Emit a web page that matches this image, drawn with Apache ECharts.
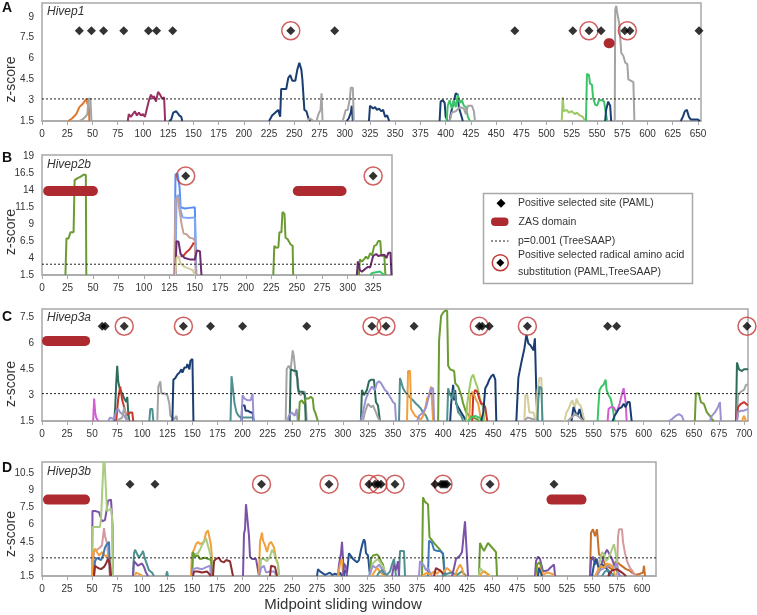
<!DOCTYPE html>
<html><head><meta charset="utf-8">
<script src="https://cdn.jsdelivr.net/npm/echarts@6/dist/echarts.min.js"></script>
<style>html,body{margin:0;padding:0;background:#fff}#c{width:757px;height:615px}</style>
</head><body><div id="c"></div>
<script>
// ---------------- DATA ----------------
const threshold = 3.09;

// Panel A: Hivep1
const hivep1Sites = [37,49,61,81,105.5,113.5,129.5,246.5,290,468.5,526,542,554,577.5,582.5,651];
const hivep1Radical = [246.5,542,580];
const hivep1SiteLevel = 8;
const hivep1Zas = [[561.5,562.5]];
const hivep1ZasLevel = 7.1;
const hivep1Windows = [
  [[26,1.5],[30,1.7],[34,2.0],[37,2.5],[40,2.7],[42,2.9],[44,3.1],[45,2.7],[46,3.0],[47,1.5]],
  [[37,1.5],[40,1.6],[43,1.8],[45,2.0],[46,3.1],[48,3.1],[49,1.5]],
  [[85,1.5],[86,2.0],[88,1.8],[90,2.0],[92,2.2],[94,1.9],[96,2.1],[98,1.9],[100,2.0],[102,1.8],[104,2.4],[106,3.0],[108,3.4],[110,3.1],[111,3.3],[113,2.9],[115,3.6],[117,3.4],[119,3.1],[121,3.2],[122,1.5]],
  [[126,1.5],[128,1.6],[130,2.1],[133,2.2],[136,1.9],[138,1.8],[139,1.5]],
  [[225,1.5],[228,1.9],[231,2.1],[234,2.3],[236,1.8],[237,3.8],[242,3.8],[244,4.6],[246,4.8],[248,4.4],[251,4.4],[253,5.2],[255,5.7],[257,5.2],[258,4.5],[259,3.4],[260,2.3],[262,2.2],[264,1.7],[266,1.5]],
  [[263,1.5],[265,1.7],[267,1.6],[269,1.5]],
  [[272,1.5],[274,2.0],[276,2.3],[277,3.5],[278,1.5]],
  [[302,1.5],[304,1.7],[306,2.1],[307,2.6],[308,1.5]],
  [[298,1.5],[301,2.3],[303,2.3],[305,3.1],[306,3.9],[308,3.9],[309,1.5]],
  [[324,1.5],[325,2.6],[328,2.4],[330,2.5],[332,2.3],[334,2.4],[336,2.2],[338,2.3],[340,1.8],[342,1.9],[344,1.5]],
  [[394,1.5],[395,2.9],[397,3.0],[399,2.8],[400,1.8],[402,1.5]],
  [[404,1.5],[405,2.0],[408,2.9],[410,3.5],[412,3.4],[413,2.5],[415,2.0],[417,1.5]],
  [[401,1.5],[402,2.6],[404,3.0],[406,2.4],[408,3.0],[410,2.5],[412,3.4],[414,2.8],[416,3.0],[418,2.6],[420,2.5],[422,1.8],[424,1.5]],
  [[404,1.5],[406,2.1],[410,2.2],[414,2.5],[418,2.4],[420,2.0],[422,2.6],[426,2.6],[428,2.2],[429,1.5]],
  [[515,1.5],[516,3.2],[517,2.2],[520,2.3],[522,2.1],[525,2.2],[528,2.0],[530,2.1],[533,1.9],[536,1.8],[538,1.5]],
  [[539,1.5],[540,4.9],[542,4.8],[543,4.2],[545,4.1],[546,3.2],[548,2.7],[550,2.6],[552,3.0],[555,3.0],[557,2.9],[558,2.4],[560,1.5]],
  [[558,1.5],[559,2.3],[561,2.9],[563,2.6],[564,1.5]],
  [[567.5,1.5],[568,9.5],[569,9.8],[570,9.3],[572,8.5],[574,6.4],[576,6.2],[578,5.7],[580,5.6],[581,4.5],[586,4.3],[587,1.5]],
  [[633,1.5],[635,1.8],[637,2.2],[639,2.3],[641,1.8],[643,1.6],[646,1.6],[650,1.6],[652,1.5]]
];
const hivep1Colors = ['orange','gray','magenta','navy','navy','gray','gray','navy','gray','navy','navy','navy','bgreen','gray','lgreen','bgreen','navy','gray','navy'];

// Panel B: Hivep2b
const hivep2bSites = [141,325];
const hivep2bRadical = [141,325];
const hivep2bSiteLevel = 16.1;
const hivep2bZas = [[6,50],[251,294]];
const hivep2bZasLevel = 13.9;
const hivep2bWindows = [
  [[23,1.5],[24,6.9],[26,6.9],[28,7.8],[31,7.8],[32,15.5],[35,15.8],[38,16.0],[41,16.3],[43,16.3],[43.5,1.5]],
  [[130,1.5],[131,16.3],[133,16.5],[134,16.4],[135,14.5],[136,11.5],[140,11.3],[145,11.4],[150,11.5],[151,11.4],[151.5,1.5]],
  [[131,1.5],[132,13.0],[134,13.3],[136,11.0],[138,10.0],[144,9.9],[150,10.0],[151,1.5]],
  [[130,1.5],[131,12.5],[133,13.0],[135,11.0],[137,9.0],[139,7.6],[142,7.5],[145,7.0],[148,6.9],[150,6.6],[151,1.5]],
  [[136,4.2],[139,4.4],[142,4.9],[145,5.3],[148,6.0],[149,6.3]],
  [[131,1.5],[132,6.5],[134,6.4],[136,4.6],[140,4.0],[145,3.8],[150,3.8],[152,5.1],[155,5.0],[156,4.9],[156.5,1.5]],
  [[131,1.5],[132,4.0],[134,4.3],[136,3.2],[140,2.7],[145,2.4],[148,2.2],[150,1.5]],
  [[227,1.5],[228,5.8],[230,5.5],[232,5.6],[233,7.8],[235,7.8],[236,10.8],[238,10.5],[239,7.0],[241,6.8],[244,6.0],[246,5.8],[246.5,1.5]],
  [[311,1.5],[312,3.8],[314,3.5],[316,3.8],[318,4.2],[320,3.9],[322,4.7],[324,4.4],[326,5.8],[328,5.9],[330,6.5],[332,6.5],[333,4.4],[336,4.2],[337,1.5]],
  [[309,1.5],[310,3.5],[312,2.2],[314,2.0],[318,2.5],[320,2.7],[322,2.6],[325,4.3],[328,4.6],[330,4.3],[333,4.4],[336,4.5],[338,4.0],[340,4.8],[342,4.8],[343,1.5]],
  [[322,1.5],[324,1.8],[328,1.9],[332,2.0],[334,1.7],[336,1.5]]
];
const hivep2bColors = ['olive','blue','blue2','rose','red','purple','tan','olive','olive','purple','bgreen'];

// Panel C: Hivep3a
const hivep3aSites = [60,63,82,141,168,200,264,329,343,371,436,439,446,484,564,573,703];
const hivep3aRadical = [82,141,329,343,436,484,703];
const hivep3aSiteLevel = 7;
const hivep3aZas = [[5,43]];
const hivep3aZasLevel = 6.15;
const hivep3aWindows = [
  [[51,1.5],[52,2.8],[53,2.0],[54,1.7],[56,1.5]],
  [[72,1.5],[73,2.3],[74,3.7],[75,4.7],[76,3.8],[77,3.5],[78,3.3],[80,3.1],[82,2.8],[84,2.6],[85,2.9],[86,2.0],[87,1.5]],
  [[74,1.5],[76,2.8],[78,3.5],[80,2.7],[82,2.3],[84,1.8],[86,1.9],[88,2.0],[90,2.0],[91,1.5]],
  [[66,1.5],[68,1.7],[72,1.6],[74,2.1],[76,2.2],[78,2.0],[80,1.9],[82,1.8],[84,1.6],[86,1.5]],
  [[75,1.5],[77,1.6],[80,1.7],[82,2.3],[84,1.8],[86,1.5]],
  [[107,1.5],[108,2.2],[110,2.2],[111,1.5]],
  [[115,1.5],[116,3.5],[118,3.8],[119,3.1],[122,3.1],[125,3.0],[127,2.5],[128,1.8],[130,1.7],[132,1.6],[134,1.8],[135,1.5]],
  [[130,1.5],[131,3.9],[133,4.0],[135,4.2],[137,4.3],[139,4.5],[140,4.3],[142,4.6],[144,4.6],[145,4.8],[147,4.5],[148,5.0],[150,5.1],[151,1.5]],
  [[188,1.5],[189,4.1],[190,3.6],[192,2.5],[194,2.0],[196,1.8],[198,1.7],[205,1.7],[210,1.7],[211,1.5]],
  [[199,1.5],[199.5,2.4],[202,2.4],[203,2.1],[205,2.1],[208,2.0],[210,2.0],[211,1.5]],
  [[199,1.5],[200,3.0],[202,2.8],[205,2.7],[208,2.7],[210,3.1],[211,1.5]],
  [[243,1.5],[244,4.5],[246,4.7],[248,4.5],[250,5.6],[251,5.3],[253,4.2],[255,4.0],[256,3.1],[258,3.0],[260,3.2],[262,3.2],[263,2.5],[264,1.5]],
  [[247,1.5],[248,4.5],[252,4.4],[254,4.4],[255,3.5],[256,3.2],[260,3.2],[262,3.0],[263,1.5]],
  [[245,1.5],[246,1.8],[249,2.0],[252,1.8],[254,2.2],[255,1.5]],
  [[256,1.5],[257,2.6],[259,2.7],[261,2.5],[263,2.8],[266,2.8],[268,2.9],[270,2.8],[271,2.2],[273,1.9],[275,1.5]],
  [[318,1.5],[319,3.3],[321,3.0],[324,3.3],[326,3.8],[328,3.9],[331,3.9],[332,3.8],[333,2.6],[335,2.4],[337,1.5]],
  [[320,1.5],[322,2.0],[325,2.5],[328,2.3],[330,2.4],[333,2.0],[335,1.7],[337,1.5]],
  [[318,1.5],[320,2.0],[323,2.8],[326,3.2],[329,3.5],[332,3.3],[334,3.7],[336,3.8],[338,3.7],[340,3.5],[342,3.3],[344,3.2],[346,3.0],[348,2.8],[350,2.6],[352,2.5],[353,1.5]],
  [[356,1.5],[357,4.0],[358,3.8],[360,3.4],[362,3.2],[365,3.0],[368,2.8],[370,2.7],[373,2.5],[375,2.4],[378,2.2],[380,2.0],[383,1.8],[385,1.5]],
  [[364,1.5],[365,4.4],[367,4.4],[368,2.2],[370,2.0],[372,1.8],[375,1.7],[378,1.6],[380,1.8],[382,2.2],[384,2.8],[386,3.0],[388,3.5],[389,3.5],[390,1.5]],
  [[374,1.5],[376,1.8],[380,2.0],[383,2.3],[386,3.0],[388,3.4],[390,3.4],[391,1.5]],
  [[395,1.5],[396,6.2],[398,7.6],[400,7.8],[402,7.9],[404,7.9],[405,4.7],[407,4.5],[411,4.4],[412,3.7],[415,3.5],[418,3.0],[420,2.5],[423,2.0],[426,1.8],[430,1.7],[434,1.6],[436,1.5]],
  [[407,1.5],[408,2.5],[410,3.6],[411,2.7],[412,3.3],[413,2.5],[415,2.3],[418,2.0],[420,1.8],[423,1.5]],
  [[404,1.5],[405,3.4],[407,3.0],[409,2.8],[411,3.3],[413,2.6],[415,2.0],[418,1.8],[420,1.5]],
  [[423,1.5],[424,2.5],[426,3.3],[428,4.0],[430,4.2],[432,3.8],[434,3.5],[436,3.0],[438,2.5],[440,2.3],[441,1.5]],
  [[429,1.5],[430,3.0],[432,3.3],[434,3.2],[436,2.8],[438,2.5],[440,2.5],[442,2.3],[444,1.5]],
  [[426,1.5],[427,2.9],[429,3.2],[431,3.0],[433,2.7],[435,2.5],[437,1.8],[438,1.5]],
  [[425,1.5],[428,1.7],[432,1.8],[436,1.7],[440,1.5]],
  [[438,1.5],[440,2.0],[442,3.4],[444,3.6],[446,3.9],[448,4.1],[450,4.2],[452,3.9],[453,1.5]],
  [[473,1.5],[475,4.0],[478,4.9],[481,5.7],[483,6.5],[485,6.0],[487,5.9],[490,5.6],[491.5,6.3],[493,3.0],[494,1.5]],
  [[481,1.5],[482,3.0],[484,3.0],[486,2.0],[490,2.0],[491,1.8],[492,1.5]],
  [[493,1.5],[494,3.2],[496,4.0],[498,4.0],[499,1.5]],
  [[494,1.5],[495,2.8],[496,3.5],[498,3.4],[499,1.5]],
  [[481,1.5],[484,1.7],[490,1.6],[492,1.5]],
  [[521,1.5],[523,2.0],[525,2.2],[527,2.5],[529,2.7],[531,2.2],[533,2.8],[535,2.5],[537,2.4],[539,2.0],[541,1.5]],
  [[528,1.5],[530,2.3],[532,2.0],[534,1.8],[536,2.2],[538,1.7],[540,1.5]],
  [[524,1.5],[528,1.7],[532,1.9],[536,1.7],[540,1.5]],
  [[554,1.5],[555,2.5],[556,3.3],[558,3.5],[560,3.6],[562,3.9],[563,3.3],[565,3.0],[567,2.8],[569,2.3],[571,1.5]],
  [[564,1.5],[565,2.2],[567,2.3],[570,2.3],[573,2.0],[576,2.5],[578,3.0],[580,3.4],[582,2.6],[583,1.5]],
  [[569,1.5],[571,1.8],[573,2.0],[575,2.2],[578,2.3],[580,2.5],[582,2.3],[584,2.6],[586,2.6],[588,1.5]],
  [[625,1.5],[628,1.6],[632,1.8],[635,1.9],[638,1.8],[640,1.5]],
  [[651,1.5],[652,3.1],[655,3.1],[657,2.6],[660,2.5],[663,2.0],[666,1.8],[668,1.6],[670,1.5]],
  [[666,1.5],[668,1.8],[671,2.0],[674,2.3],[676,2.6],[677,1.5]],
  [[692,1.5],[693,4.9],[695,4.5],[698,4.4],[700,4.5],[704,4.5]],
  [[693,1.5],[694,3.0],[697,3.2],[700,3.3],[702,3.6],[704,3.6]],
  [[693,1.5],[694,2.3],[697,2.5],[700,2.6],[704,2.4]],
  [[693,1.5],[694,2.0],[697,2.1],[700,2.1],[704,2.2]],
  [[698,1.5],[700,1.8],[702,1.5]]
];
const hivep3aColors = ['pink','dteal','red','lav','gray','teal','gray','navy','teal','navy','lav','gray','dteal','lav','olive','dteal','gray','lav','teal','orange2','lav','olive','navy','teal','lgreen','red','orange2','bgreen','navy','navy','tan','tan','teal','gray','tan','navy','gray','bgreen','pink','navy','lav','olive','lav','dteal','gray','red','lav','orange2'];

// Panel D: Hivep3b
const hivep3bSites = [88,113,219.5,287,327,333,336,339,353,393,399,401,403,405,448,512];
const hivep3bRadical = [219.5,287,327,336,353,401,448];
const hivep3bSiteLevel = 9.55;
const hivep3bZas = [[6,43],[509.5,539.5]];
const hivep3bZasLevel = 8.2;
const hivep3bWindows = [
  [[50,1.5],[50.5,7.2],[53,7.2],[57,7.1],[59,7.0],[60,6.3],[63,6.4],[65,7.5],[66,8.1],[69,8.2],[70,8.1],[70.5,6.0],[71,1.5]],
  [[50,1.5],[50.5,5.8],[53,5.8],[58,5.8],[59,6.5],[61,6.6],[62,12.5],[64,12.5],[65,7.2],[67,7.3],[69,7.4],[70,6.8],[71,1.5]],
  [[51,1.5],[52,3.7],[55,3.8],[58,4.0],[60,4.2],[62,5.7],[63,5.0],[65,4.4],[67,4.5],[68,1.5]],
  [[50,1.5],[51,3.5],[53,3.9],[55,3.8],[57,3.3],[60,3.6],[62,3.4],[64,3.2],[66,3.4],[68,3.0],[69,1.5]],
  [[52,1.5],[53,2.8],[55,3.1],[57,3.0],[59,2.9],[61,3.3],[63,4.0],[65,4.3],[67,4.5],[68,1.5]],
  [[52,1.5],[53,2.4],[56,2.2],[59,2.1],[62,2.3],[64,2.6],[66,3.0],[68,2.5],[69,1.5]],
  [[91,1.5],[92,3.5],[93,3.8],[95,3.7],[97,3.1],[99,3.0],[100,3.5],[101,3.7],[103,3.0],[105,2.5],[107,2.0],[110,1.8],[112,1.5]],
  [[91,1.5],[92,2.8],[94,2.7],[96,2.4],[98,2.3],[100,2.6],[102,2.3],[104,1.8],[106,1.5]],
  [[93,1.5],[94,1.8],[96,1.7],[99,1.6],[100,1.5]],
  [[124,1.5],[125,1.9],[126,1.5]],
  [[149,1.5],[150,3.5],[152,3.8],[154,4.3],[156,4.5],[158,4.3],[160,4.3],[162,4.5],[164,5.3],[166,5.5],[168,5.5],[169,4.2],[170,3.0],[171,1.5]],
  [[150,1.5],[151,3.2],[153,3.4],[156,3.5],[158,3.8],[160,4.2],[162,4.3],[164,4.8],[166,4.8],[168,3.5],[170,2.8],[171,1.5]],
  [[150,1.5],[151,3.6],[153,3.2],[156,3.3],[158,3.0],[160,3.0],[163,3.1],[166,3.0],[169,2.9],[170,1.5]],
  [[150,1.5],[151,2.1],[155,2.2],[160,2.1],[165,2.3],[168,2.4],[169,1.5]],
  [[151,1.5],[152,1.9],[156,1.9],[160,1.8],[165,1.9],[168,1.6],[169,1.5]],
  [[171,1.5],[172,2.8],[174,3.0],[176,3.0],[177,3.1],[179,2.8],[182,2.7],[184,2.9],[186,2.9],[188,2.8],[190,2.9],[191,1.5]],
  [[201,1.5],[202,5.2],[203,5.6],[204,7.8],[206,7.8],[207,5.0],[208,3.2],[210,3.0],[212,3.0],[214,3.0],[216,3.0],[217,1.5]],
  [[217,1.5],[218,4.5],[220,5.3],[221,4.6],[223,4.2],[225,3.6],[227,4.3],[229,4.5],[231,4.5],[232,4.0],[234,3.0],[236,2.5],[237,1.5]],
  [[218,1.5],[219,3.0],[222,3.0],[225,2.8],[228,3.2],[230,3.8],[232,3.5],[234,3.0],[236,2.6],[237,1.5]],
  [[217,1.5],[219,2.2],[222,2.4],[224,1.8],[228,1.9],[232,1.9],[235,1.5]],
  [[228,1.5],[229,2.4],[231,2.5],[233,2.3],[235,1.5]],
  [[275,1.5],[276,2.1],[278,1.9],[280,1.8],[283,1.6],[285,1.7],[288,1.8],[290,1.6],[293,1.7],[296,1.6],[298,1.8],[300,1.5]],
  [[296,1.5],[297,2.5],[299,3.5],[300,4.5],[301,3.0],[302,1.5]],
  [[296,1.5],[298,2.5],[300,3.0],[301,1.5]],
  [[302,1.5],[303,2.0],[305,1.8],[307,3.5],[309,3.6],[311,3.0],[313,3.1],[315,2.7],[317,2.9],[319,3.8],[321,4.5],[322,4.7],[323,4.5],[324,3.5],[326,3.3],[328,1.5]],
  [[301,1.5],[302,2.6],[304,2.3],[305,1.5]],
  [[328,1.5],[329,3.0],[331,3.3],[333,3.2],[335,3.4],[337,3.2],[339,2.8],[341,2.5],[343,1.5]],
  [[328,1.5],[330,2.5],[333,2.8],[336,3.0],[339,2.6],[342,2.2],[344,1.5]],
  [[327,1.5],[329,2.0],[331,2.4],[334,2.2],[337,2.5],[340,2.1],[343,1.8],[345,1.5]],
  [[330,1.5],[332,1.8],[335,2.2],[338,1.9],[340,1.7],[343,1.5]],
  [[335,1.5],[337,1.8],[340,2.0],[342,1.7],[345,1.6],[348,1.9],[350,2.5],[352,3.0],[353,3.0],[354,1.5]],
  [[357,1.5],[358,3.7],[360,3.7],[362,3.7],[363,1.5]],
  [[350,1.5],[352,2.5],[354,2.0],[356,2.8],[357,1.5]],
  [[380,1.5],[381,8.4],[383,8.0],[386,7.8],[387.5,4.9],[389,4.8],[393,4.3],[398,3.8],[401,3.4],[402.5,1.5]],
  [[386,1.5],[387,4.6],[390,4.4],[392,3.8],[395,3.7],[398,3.7],[401,3.5],[403,1.5]],
  [[377,1.5],[378,2.8],[380,2.9],[382,2.4],[384,2.0],[386,2.2],[388,1.8],[390,1.5]],
  [[380,1.5],[385,1.8],[388,1.6],[392,1.9],[395,1.7],[398,2.0],[401,1.8],[405,2.2],[410,1.8],[414,1.5]],
  [[392,1.5],[394,2.2],[396,2.3],[398,2.0],[400,1.8],[402,1.5]],
  [[400,1.5],[405,1.7],[410,1.8],[415,1.6],[420,1.9],[424,1.5]],
  [[410,1.5],[412,2.2],[414,3.0],[416,3.1],[418,3.3],[420,3.6],[421,4.5],[423,6.3],[425,6.4],[426,1.5]],
  [[413,1.5],[415,2.0],[418,2.5],[420,2.2],[422,1.5]],
  [[437,1.5],[438,4.4],[440,4.0],[442,3.7],[444,3.8],[446,4.4],[448,4.2],[450,4.2],[452,3.8],[454,3.6],[455,1.5]],
  [[437,1.5],[438,2.2],[440,2.0],[443,1.8],[446,1.7],[448,1.5]],
  [[438,1.5],[440,1.8],[443,1.9],[447,1.5]],
  [[493,1.5],[494,2.8],[496,3.2],[498,3.0],[500,3.0],[501,1.9],[503,2.0],[506,2.0],[508,2.2],[510,2.3],[512,2.5],[513,1.5]],
  [[494,1.5],[495,2.5],[497,2.7],[499,2.4],[500,1.5]],
  [[495,1.5],[497,2.3],[499,2.0],[501,1.6],[505,1.8],[510,1.7],[512,1.5]],
  [[496,1.5],[497,2.2],[499,2.1],[500,1.5]],
  [[548,1.5],[549,5.3],[551,5.6],[553,5.0],[555,5.6],[556,5.6],[557,3.4],[560,3.2],[563,2.5],[566,2.3],[570,2.1],[574,2.8],[578,2.5],[581,2.3],[584,2.1],[587,2.0],[590,1.8],[594,1.6],[598,1.7],[601,1.8],[602,2.4],[603,1.5]],
  [[575,1.5],[576,4.9],[577,5.6],[580,5.6],[581,4.5],[583,3.5],[585,2.8],[588,2.2],[590,2.0],[592,1.7],[594,1.5]],
  [[548,1.5],[549,2.8],[551,3.2],[553,2.5],[555,3.0],[557,2.0],[560,2.7],[562,3.3],[565,3.8],[567,3.5],[570,3.0],[572,2.5],[574,2.3],[576,1.8],[578,1.5]],
  [[555,1.5],[557,2.5],[560,3.6],[562,3.4],[564,2.8],[566,3.0],[568,3.4],[570,3.5],[572,4.3],[573,4.3],[574,3.3],[576,1.5]],
  [[550,1.5],[552,2.5],[554,3.0],[556,2.4],[558,2.2],[560,2.5],[563,2.3],[566,2.0],[568,1.5]],
  [[555,1.5],[558,2.0],[562,2.2],[566,2.4],[570,2.4],[573,2.3],[575,2.6],[577,1.5]],
  [[553,1.5],[556,2.0],[559,2.4],[562,2.2],[565,2.6],[568,2.5],[571,2.3],[573,1.5]],
  [[560,1.5],[563,1.9],[566,2.0],[569,1.8],[572,1.5]],
  [[566,1.5],[570,2.0],[575,2.1],[580,1.8],[584,1.5]]
];
const hivep3bColors = ['violet','lgreen2','rose2','orange2','steel','dred','teal','violet','orange2','teal','orange2','lgreen2','olive','lav','dred','dred','violet','orange2','lgreen2','lav','dred','navy2','violet','orange2','navy2','violet','olive','lgreen2','lav','orange2','teal','teal','violet','olive','steel','lav','orange2','dred','teal','violet','orange2','olive','lgreen2','orange2','violet','olive','orange2','navy2','dorange','rose2','violet','lgreen2','navy2','lav','orange2','teal','dred'];

// ---------------- STYLE ----------------
const palette = {
  navy:'#1a3e72', navy2:'#24518f', gray:'#a4a4a4', orange:'#e0772f', orange2:'#f0a03c', dorange:'#c8702a',
  magenta:'#9a2f62', bgreen:'#3cc468', lgreen:'#9ccb64', lgreen2:'#a9cc82', olive:'#6b9b33',
  blue:'#5a8ef0', blue2:'#7fa6f2', rose:'#c8a096', rose2:'#d59a9f', red:'#c8362e', purple:'#6a2c6e',
  tan:'#d4cd9c', teal:'#4f9090', dteal:'#2e6c5c', lav:'#9b92d4', pink:'#d25ed2', dred:'#8e2c2e',
  violet:'#7a52a8', steel:'#3d78b8'
};
const panels = [
  {letter:'A', name:'Hivep1', w:hivep1Windows, c:hivep1Colors, sites:hivep1Sites, rad:hivep1Radical, sy:hivep1SiteLevel, zas:hivep1Zas, zy:hivep1ZasLevel,
   xMax:653, yMax:10, yInt:1.5, grid:{left:42, top:3, width:659, height:118}, zlab:79.5, letY:8, nameY:11.5},
  {letter:'B', name:'Hivep2b', w:hivep2bWindows, c:hivep2bColors, sites:hivep2bSites, rad:hivep2bRadical, sy:hivep2bSiteLevel, zas:hivep2bZas, zy:hivep2bZasLevel,
   xMax:343.5, yMax:19.2, yInt:2.5, grid:{left:42, top:155, width:350, height:120}, zlab:232, letY:158, nameY:165},
  {letter:'C', name:'Hivep3a', w:hivep3aWindows, c:hivep3aColors, sites:hivep3aSites, rad:hivep3aRadical, sy:hivep3aSiteLevel, zas:hivep3aZas, zy:hivep3aZasLevel,
   xMax:704, yMax:8, yInt:1.5, grid:{left:42, top:309, width:706, height:112}, zlab:384, letY:317.5, nameY:318},
  {letter:'D', name:'Hivep3b', w:hivep3bWindows, c:hivep3bColors, sites:hivep3bSites, rad:hivep3bRadical, sy:hivep3bSiteLevel, zas:hivep3bZas, zy:hivep3bZasLevel,
   xMax:614, yMax:11.5, yInt:1.5, grid:{left:42, top:462, width:614, height:114}, zlab:534, letY:468, nameY:471.5}
];

const FONT = '"Liberation Sans", Arial, sans-serif';
const grids = [], xAxes = [], yAxes = [], series = [], graphics = [];

panels.forEach((p, i) => {
  grids.push(Object.assign({show:true, borderColor:'#a8a8a8', borderWidth:1.5, backgroundColor:'#fff', containLabel:false}, p.grid));
  xAxes.push({type:'value', gridIndex:i, min:0, max:p.xMax, interval:25,
    axisLine:{show:true, onZero:false, lineStyle:{color:'#a8a8a8', width:1.5}},
    axisTick:{show:true, length:4, lineStyle:{color:'#a8a8a8'}},
    splitLine:{show:false},
    axisLabel:{fontSize:10, color:'#333', margin:8, fontFamily:FONT, showMaxLabel:false}
  });
  yAxes.push({type:'value', gridIndex:i, min:1.5, max:p.yMax, interval:p.yInt,
    axisLine:{show:false}, axisTick:{show:false}, splitLine:{show:false},
    axisLabel:{fontSize:10, color:'#333', margin:8, fontFamily:FONT, showMaxLabel:false}
  });
  p.w.forEach((d, k) => {
    const col = palette[p.c[k]];
    series.push({type:'line', xAxisIndex:i, yAxisIndex:i, data:d, showSymbol:false, symbol:'none',
      clip:true, silent:true, z:2, lineStyle:{width:2, color:col}, itemStyle:{color:col}});
  });
  series.push({type:'line', xAxisIndex:i, yAxisIndex:i, data:[[0,threshold],[p.xMax,threshold]],
    showSymbol:false, symbol:'none', silent:true, z:3, lineStyle:{width:1, color:'#222', type:[2,2]}});
  p.zas.forEach(r => {
    series.push({type:'line', xAxisIndex:i, yAxisIndex:i, data:[[r[0],p.zy],[r[1],p.zy]],
      showSymbol:false, symbol:'none', silent:true, clip:false, z:4, lineStyle:{width:10, color:'#ad2a30', cap:'round'}});
  });
  series.push({type:'scatter', xAxisIndex:i, yAxisIndex:i, data:p.rad.map(x=>[x,p.sy]), symbol:'circle', symbolSize:18,
    silent:true, clip:false, z:5, itemStyle:{color:'rgba(255,255,255,0)', borderColor:'#c43a3a', borderWidth:1.5}});
  series.push({type:'scatter', xAxisIndex:i, yAxisIndex:i, data:p.sites.map(x=>[x,p.sy]), symbol:'diamond', symbolSize:9,
    silent:true, clip:false, z:6, itemStyle:{color:'#000'}});

  graphics.push({type:'text', left:null, x:2, y:p.letY, style:{text:p.letter, font:'bold 14px '+FONT, fill:'#111', textVerticalAlign:'middle'}});
  graphics.push({type:'text', x:47, y:p.nameY, z:10, style:{text:p.name, font:'italic 12px '+FONT, fill:'#333', textVerticalAlign:'middle'}});
  graphics.push({type:'text', x:11, y:p.zlab, rotation:Math.PI/2, style:{text:'z-score', font:'14px '+FONT, fill:'#333', textAlign:'center', textVerticalAlign:'middle'}});
});

graphics.push({type:'text', x:343, y:605, style:{text:'Midpoint sliding window', font:'15px '+FONT, fill:'#333', textAlign:'center', textVerticalAlign:'middle'}});

// legend box
const LF = '10.5px ' + FONT;
graphics.push({type:'rect', shape:{x:483.5, y:193.5, width:209, height:90}, style:{fill:'#fff', stroke:'#a8a8a8', lineWidth:1.5}, z:20});
graphics.push({type:'polygon', shape:{points:[[501,198.8],[505.5,203.3],[501,207.8],[496.5,203.3]]}, style:{fill:'#000'}, z:21});
graphics.push({type:'text', x:518, y:203.5, z:21, style:{text:'Positive selected site (PAML)', font:LF, fill:'#333', textVerticalAlign:'middle'}});
graphics.push({type:'rect', shape:{x:491, y:217.5, width:17.5, height:8.5, r:4}, style:{fill:'#ad2a30'}, z:21});
graphics.push({type:'text', x:518.5, y:221.7, z:21, style:{text:'ZAS domain', font:LF, fill:'#333', textVerticalAlign:'middle'}});
graphics.push({type:'line', shape:{x1:491, y1:241, x2:508.5, y2:241}, style:{stroke:'#222', lineWidth:1, lineDash:[2,2]}, z:21});
graphics.push({type:'text', x:518, y:241, z:21, style:{text:'p=0.001 (TreeSAAP)', font:LF, fill:'#333', textVerticalAlign:'middle'}});
graphics.push({type:'circle', shape:{cx:500.3, cy:262.7, r:8}, style:{fill:'none', stroke:'#c43a3a', lineWidth:1.5}, z:21});
graphics.push({type:'polygon', shape:{points:[[500.3,258.7],[504.3,262.7],[500.3,266.7],[496.3,262.7]]}, style:{fill:'#000'}, z:21});
graphics.push({type:'text', x:518, y:255, z:21, style:{text:'Positive selected radical amino acid', font:LF, fill:'#333', textVerticalAlign:'middle'}});
graphics.push({type:'text', x:518, y:272.5, z:21, style:{text:'substitution (PAML,TreeSAAP)', font:LF, fill:'#333', textVerticalAlign:'middle'}});

const chart = echarts.init(document.getElementById('c'), null, {renderer:'canvas'});
chart.setOption({
  animation:false,
  backgroundColor:'#fff',
  grid:grids, xAxis:xAxes, yAxis:yAxes, series:series, graphic:graphics
});
</script></body></html>
